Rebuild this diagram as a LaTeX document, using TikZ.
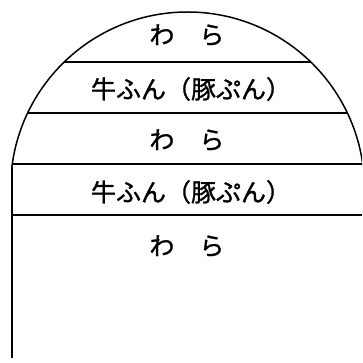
\documentclass[tikz,border=0pt]{standalone}
\usepackage{fontspec}
\newfontfamily\jp[FakeBold=1.2]{Noto Sans CJK JP}
\begin{document}
\begin{tikzpicture}[x=1pt,y=-1pt,line width=1.5pt,
  lbl/.style={font=\jp\fontsize{25}{25}\selectfont, inner sep=0pt, anchor=center}]
\useasboundingbox (0,0) rectangle (362,363);
\coordinate (c) at (187.5,189);
\coordinate (bl) at (11.9,167);
\coordinate (bot) at (11.9,358);
% dome
\begin{scope}
  \clip (0,0) rectangle (362,167);
  \draw (c) circle[radius=177];
\end{scope}
\draw (bl) -- (bot);
% layer lines inside dome
\begin{scope}
  \clip (c) circle[radius=177];
  \draw (0,62) -- (362,62);
  \draw (0,113) -- (362,113);
\end{scope}
\draw (11.9,164) -- (362,164);
\draw (11.9,215) -- (362,215);
% labels
\node[lbl] (w1) at (187,35) {わ　ら};
\node[lbl] (g1) at (191,89) {牛ふん（豚ぷん）};
\node[lbl] (w2) at (187,140) {わ　ら};
\node[lbl] (g2) at (191,192) {牛ふん（豚ぷん）};
\node[lbl] (w3) at (187,246) {わ　ら};
\end{tikzpicture}
\end{document}
